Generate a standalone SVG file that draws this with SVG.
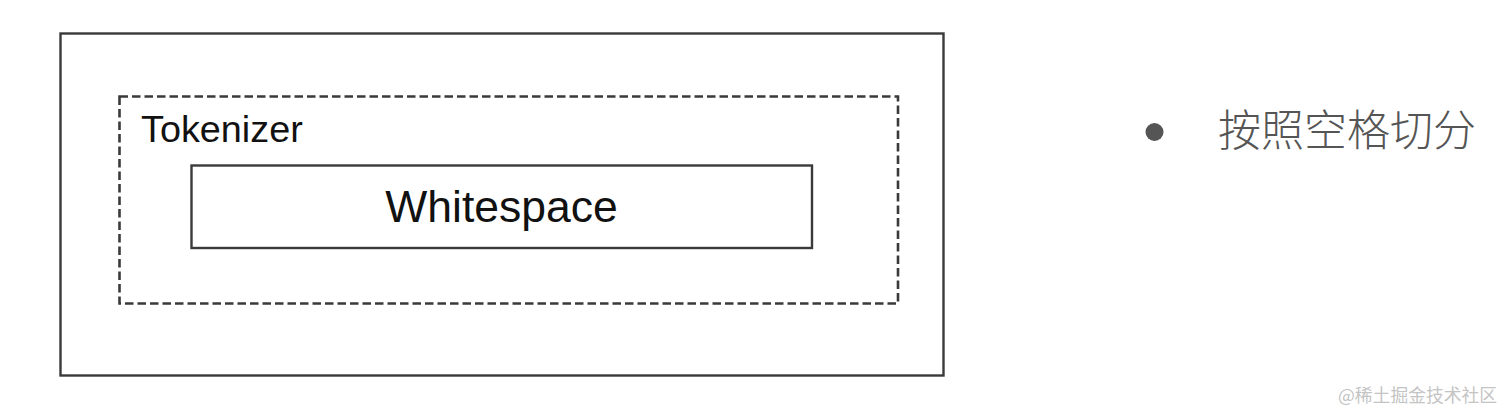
<svg xmlns="http://www.w3.org/2000/svg" width="1512" height="419" viewBox="0 0 1512 419">
<style>
.box{fill:none;stroke:#3a3a3a;stroke-width:2.4}
.dash{fill:none;stroke:#3a3a3a;stroke-width:2.6;stroke-dasharray:8.5 4}
.lbl{font-family:"Liberation Sans","Noto Sans CJK SC",sans-serif;fill:#111}
.cn{font-family:"Noto Sans CJK SC",sans-serif;fill:#555;font-weight:300}
.wm{font-family:"Noto Sans CJK SC",sans-serif;fill:#c4c4c4}
</style>
<rect width="1512" height="419" fill="#fff"/>
<g id="outer">
<rect class="box" x="60.5" y="33.5" width="883" height="342"/>
</g>
<g id="tokenizer">
<rect class="dash" x="119.5" y="96.5" width="778.5" height="207"/>
<text class="lbl" x="141" y="141.5" font-size="37.8">Tokenizer</text>
</g>
<g id="whitespace">
<rect class="box" x="191.5" y="165.5" width="620.5" height="82.5"/>
<text class="lbl" x="501.5" y="221.5" font-size="44.5" text-anchor="middle">Whitespace</text>
</g>
<g id="connectors"></g>
<g id="note">
<circle cx="1154.5" cy="132" r="9" fill="#555"/>
<text class="cn" x="1218" y="146" font-size="43">按照空格切分</text>
</g>
<text class="wm" x="1338" y="402" font-size="17.8">@稀土掘金技术社区</text>
</svg>
